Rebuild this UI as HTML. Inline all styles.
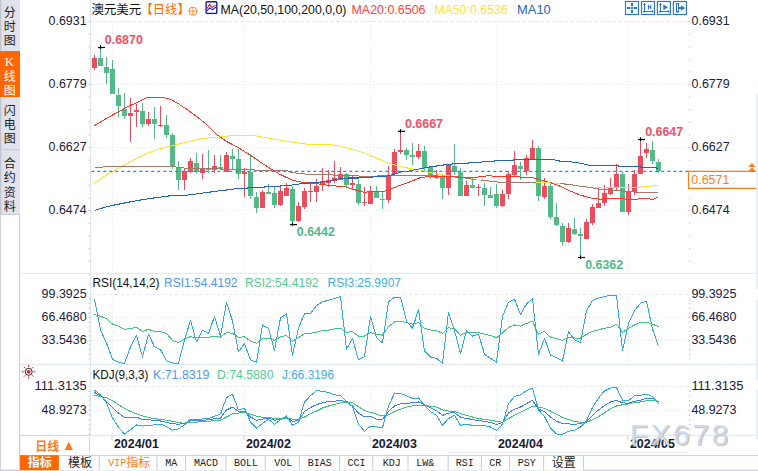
<!DOCTYPE html>
<html><head><meta charset="utf-8"><title>AUDUSD</title>
<style>html,body{margin:0;padding:0;background:#fff;}body{width:758px;height:471px;overflow:hidden;font-family:"Liberation Sans",sans-serif;}</style>
</head><body>
<svg width="758" height="471" viewBox="0 0 758 471" style="display:block" font-family="Liberation Sans, sans-serif">
<rect x="0" y="0" width="20" height="214" fill="#e1e3ec"/>
<rect x="0" y="0" width="1.3" height="214" fill="#c0c3ce"/>
<rect x="1.3" y="0" width="1" height="214" fill="#d8dae3"/>
<rect x="0" y="214" width="20" height="257" fill="#fff"/>
<rect x="0.4" y="214.5" width="19.2" height="257" fill="none" stroke="#c9ced8" stroke-width="1"/>
<rect x="2" y="149.2" width="18" height="1" fill="#c5c8d2"/>
<rect x="0" y="51" width="20" height="46" fill="#ff6600"/>
<text x="9.8" y="17.4" font-size="12" fill="#222" text-anchor="middle" style="font-family:'Liberation Sans','Noto Sans CJK SC',sans-serif">分</text>
<text x="9.8" y="31" font-size="12" fill="#222" text-anchor="middle" style="font-family:'Liberation Sans','Noto Sans CJK SC',sans-serif">时</text>
<text x="9.8" y="44.9" font-size="12" fill="#222" text-anchor="middle" style="font-family:'Liberation Sans','Noto Sans CJK SC',sans-serif">图</text>
<text x="9.8" y="80.9" font-size="12" fill="#fff" text-anchor="middle" style="font-family:'Liberation Sans','Noto Sans CJK SC',sans-serif">线</text>
<text x="9.8" y="95" font-size="12" fill="#fff" text-anchor="middle" style="font-family:'Liberation Sans','Noto Sans CJK SC',sans-serif">图</text>
<text x="9.4" y="66" font-size="13" fill="#fff" text-anchor="middle" font-weight="normal" style="font-family:'Liberation Serif',serif" >K</text>
<text x="9.8" y="114.9" font-size="12" fill="#222" text-anchor="middle" style="font-family:'Liberation Sans','Noto Sans CJK SC',sans-serif">闪</text>
<text x="9.8" y="128.7" font-size="12" fill="#222" text-anchor="middle" style="font-family:'Liberation Sans','Noto Sans CJK SC',sans-serif">电</text>
<text x="9.8" y="142.7" font-size="12" fill="#222" text-anchor="middle" style="font-family:'Liberation Sans','Noto Sans CJK SC',sans-serif">图</text>
<text x="9.8" y="167.5" font-size="12" fill="#222" text-anchor="middle" style="font-family:'Liberation Sans','Noto Sans CJK SC',sans-serif">合</text>
<text x="9.8" y="182" font-size="12" fill="#222" text-anchor="middle" style="font-family:'Liberation Sans','Noto Sans CJK SC',sans-serif">约</text>
<text x="9.8" y="196.5" font-size="12" fill="#222" text-anchor="middle" style="font-family:'Liberation Sans','Noto Sans CJK SC',sans-serif">资</text>
<text x="9.8" y="210.5" font-size="12" fill="#222" text-anchor="middle" style="font-family:'Liberation Sans','Noto Sans CJK SC',sans-serif">料</text>
<line x1="91" x2="689.5" y1="84.5" y2="84.5" stroke="#dfe6ee" stroke-width="1" stroke-dasharray="1,2"/>
<line x1="91" x2="689.5" y1="147.5" y2="147.5" stroke="#dfe6ee" stroke-width="1" stroke-dasharray="1,2"/>
<line x1="91" x2="689.5" y1="210.5" y2="210.5" stroke="#dfe6ee" stroke-width="1" stroke-dasharray="1,2"/>
<line x1="90.5" x2="689.5" y1="21.5" y2="21.5" stroke="#e1e9f0" stroke-width="1" stroke-dasharray="3.5,2.5"/>
<line x1="112.5" x2="112.5" y1="21" y2="272" stroke="#dfe6ee" stroke-width="1" stroke-dasharray="1,2"/>
<line x1="112.5" x2="112.5" y1="294" y2="364" stroke="#dfe6ee" stroke-width="1" stroke-dasharray="1,2"/>
<line x1="112.5" x2="112.5" y1="387" y2="435" stroke="#dfe6ee" stroke-width="1" stroke-dasharray="1,2"/>
<line x1="244.5" x2="244.5" y1="21" y2="272" stroke="#dfe6ee" stroke-width="1" stroke-dasharray="1,2"/>
<line x1="244.5" x2="244.5" y1="294" y2="364" stroke="#dfe6ee" stroke-width="1" stroke-dasharray="1,2"/>
<line x1="244.5" x2="244.5" y1="387" y2="435" stroke="#dfe6ee" stroke-width="1" stroke-dasharray="1,2"/>
<line x1="370.5" x2="370.5" y1="21" y2="272" stroke="#dfe6ee" stroke-width="1" stroke-dasharray="1,2"/>
<line x1="370.5" x2="370.5" y1="294" y2="364" stroke="#dfe6ee" stroke-width="1" stroke-dasharray="1,2"/>
<line x1="370.5" x2="370.5" y1="387" y2="435" stroke="#dfe6ee" stroke-width="1" stroke-dasharray="1,2"/>
<line x1="496.5" x2="496.5" y1="21" y2="272" stroke="#dfe6ee" stroke-width="1" stroke-dasharray="1,2"/>
<line x1="496.5" x2="496.5" y1="294" y2="364" stroke="#dfe6ee" stroke-width="1" stroke-dasharray="1,2"/>
<line x1="496.5" x2="496.5" y1="387" y2="435" stroke="#dfe6ee" stroke-width="1" stroke-dasharray="1,2"/>
<line x1="628.5" x2="628.5" y1="21" y2="272" stroke="#dfe6ee" stroke-width="1" stroke-dasharray="1,2"/>
<line x1="628.5" x2="628.5" y1="294" y2="364" stroke="#dfe6ee" stroke-width="1" stroke-dasharray="1,2"/>
<line x1="628.5" x2="628.5" y1="387" y2="435" stroke="#dfe6ee" stroke-width="1" stroke-dasharray="1,2"/>
<line x1="90.5" x2="90.5" y1="0" y2="435.5" stroke="#dde5ee" stroke-width="1.1"/>
<rect x="88.7" y="20.7" width="1.4" height="1.2" fill="#c2c9d6"/>
<rect x="88.7" y="33.32" width="1.4" height="1.2" fill="#c2c9d6"/>
<rect x="88.7" y="45.94" width="1.4" height="1.2" fill="#c2c9d6"/>
<rect x="88.7" y="58.559999999999995" width="1.4" height="1.2" fill="#c2c9d6"/>
<rect x="88.7" y="71.18" width="1.4" height="1.2" fill="#c2c9d6"/>
<rect x="88.7" y="83.8" width="1.4" height="1.2" fill="#c2c9d6"/>
<rect x="88.7" y="96.42" width="1.4" height="1.2" fill="#c2c9d6"/>
<rect x="88.7" y="109.03999999999999" width="1.4" height="1.2" fill="#c2c9d6"/>
<rect x="88.7" y="121.66" width="1.4" height="1.2" fill="#c2c9d6"/>
<rect x="88.7" y="134.28" width="1.4" height="1.2" fill="#c2c9d6"/>
<rect x="88.7" y="146.9" width="1.4" height="1.2" fill="#c2c9d6"/>
<rect x="88.7" y="159.52" width="1.4" height="1.2" fill="#c2c9d6"/>
<rect x="88.7" y="172.14000000000001" width="1.4" height="1.2" fill="#c2c9d6"/>
<rect x="88.7" y="184.76000000000002" width="1.4" height="1.2" fill="#c2c9d6"/>
<rect x="88.7" y="197.38" width="1.4" height="1.2" fill="#c2c9d6"/>
<rect x="88.7" y="210.0" width="1.4" height="1.2" fill="#c2c9d6"/>
<rect x="88.7" y="222.62" width="1.4" height="1.2" fill="#c2c9d6"/>
<rect x="88.7" y="235.24" width="1.4" height="1.2" fill="#c2c9d6"/>
<rect x="88.7" y="247.86" width="1.4" height="1.2" fill="#c2c9d6"/>
<rect x="88.7" y="260.47999999999996" width="1.4" height="1.2" fill="#c2c9d6"/>
<rect x="689.0" y="20.8" width="1.2" height="1.2" fill="#b9c0cc"/>
<rect x="689.0" y="33.42" width="1.2" height="1.2" fill="#b9c0cc"/>
<rect x="689.0" y="46.04" width="1.2" height="1.2" fill="#b9c0cc"/>
<rect x="689.0" y="58.66" width="1.2" height="1.2" fill="#b9c0cc"/>
<rect x="689.0" y="71.28" width="1.2" height="1.2" fill="#b9c0cc"/>
<rect x="689.0" y="83.89999999999999" width="1.2" height="1.2" fill="#b9c0cc"/>
<rect x="689.0" y="96.52" width="1.2" height="1.2" fill="#b9c0cc"/>
<rect x="689.0" y="109.13999999999999" width="1.2" height="1.2" fill="#b9c0cc"/>
<rect x="689.0" y="121.75999999999999" width="1.2" height="1.2" fill="#b9c0cc"/>
<rect x="689.0" y="134.38" width="1.2" height="1.2" fill="#b9c0cc"/>
<rect x="689.0" y="147.0" width="1.2" height="1.2" fill="#b9c0cc"/>
<rect x="689.0" y="159.62" width="1.2" height="1.2" fill="#b9c0cc"/>
<rect x="689.0" y="172.24" width="1.2" height="1.2" fill="#b9c0cc"/>
<rect x="689.0" y="184.86" width="1.2" height="1.2" fill="#b9c0cc"/>
<rect x="689.0" y="197.48" width="1.2" height="1.2" fill="#b9c0cc"/>
<rect x="689.0" y="210.1" width="1.2" height="1.2" fill="#b9c0cc"/>
<rect x="689.0" y="222.72" width="1.2" height="1.2" fill="#b9c0cc"/>
<rect x="689.0" y="235.34" width="1.2" height="1.2" fill="#b9c0cc"/>
<rect x="689.0" y="247.96" width="1.2" height="1.2" fill="#b9c0cc"/>
<rect x="689.0" y="260.58" width="1.2" height="1.2" fill="#b9c0cc"/>
<text x="86.6" y="24.7" font-size="12" fill="#20203a" text-anchor="end" font-weight="normal" style="font-family:'Liberation Sans',sans-serif" textLength="38" lengthAdjust="spacingAndGlyphs" >0.6931</text>
<text x="691.6" y="24.7" font-size="12" fill="#20203a" text-anchor="start" font-weight="normal" style="font-family:'Liberation Sans',sans-serif" textLength="38" lengthAdjust="spacingAndGlyphs" >0.6931</text>
<rect x="688.0" y="21.0" width="2" height="1" fill="#c9d0dc"/>
<text x="86.6" y="87.7" font-size="12" fill="#20203a" text-anchor="end" font-weight="normal" style="font-family:'Liberation Sans',sans-serif" textLength="38" lengthAdjust="spacingAndGlyphs" >0.6779</text>
<text x="691.6" y="87.7" font-size="12" fill="#20203a" text-anchor="start" font-weight="normal" style="font-family:'Liberation Sans',sans-serif" textLength="38" lengthAdjust="spacingAndGlyphs" >0.6779</text>
<rect x="688.0" y="84.0" width="2" height="1" fill="#c9d0dc"/>
<text x="86.6" y="150.7" font-size="12" fill="#20203a" text-anchor="end" font-weight="normal" style="font-family:'Liberation Sans',sans-serif" textLength="38" lengthAdjust="spacingAndGlyphs" >0.6627</text>
<text x="691.6" y="150.7" font-size="12" fill="#20203a" text-anchor="start" font-weight="normal" style="font-family:'Liberation Sans',sans-serif" textLength="38" lengthAdjust="spacingAndGlyphs" >0.6627</text>
<rect x="688.0" y="147.0" width="2" height="1" fill="#c9d0dc"/>
<text x="86.6" y="213.7" font-size="12" fill="#20203a" text-anchor="end" font-weight="normal" style="font-family:'Liberation Sans',sans-serif" textLength="38" lengthAdjust="spacingAndGlyphs" >0.6474</text>
<text x="691.6" y="213.7" font-size="12" fill="#20203a" text-anchor="start" font-weight="normal" style="font-family:'Liberation Sans',sans-serif" textLength="38" lengthAdjust="spacingAndGlyphs" >0.6474</text>
<rect x="688.0" y="210.0" width="2" height="1" fill="#c9d0dc"/>
<line x1="20" x2="758" y1="273.3" y2="273.3" stroke="#e4eaf2" stroke-width="1.3"/>
<line x1="20" x2="758" y1="364.5" y2="364.5" stroke="#e4eaf2" stroke-width="1.3"/>
<line x1="20" x2="758" y1="435.5" y2="435.5" stroke="#e4eaf2" stroke-width="1.3"/>
<rect x="94" y="55" width="1" height="15" fill="#eb4d5c"/>
<rect x="92" y="58" width="5" height="10" fill="#eb4d5c"/>
<rect x="100" y="48" width="1" height="18" fill="#53b987"/>
<rect x="98" y="58" width="5" height="8" fill="#53b987"/>
<rect x="106" y="57" width="1" height="27" fill="#53b987"/>
<rect x="104" y="67" width="5" height="6" fill="#53b987"/>
<rect x="112" y="60" width="1" height="34" fill="#53b987"/>
<rect x="110" y="69" width="5" height="25" fill="#53b987"/>
<rect x="118" y="88" width="1" height="29" fill="#53b987"/>
<rect x="116" y="95" width="5" height="11" fill="#53b987"/>
<rect x="124" y="93" width="1" height="26" fill="#53b987"/>
<rect x="122" y="109" width="5" height="7" fill="#53b987"/>
<rect x="130" y="98" width="1" height="44" fill="#eb4d5c"/>
<rect x="128" y="113" width="5" height="3" fill="#eb4d5c"/>
<rect x="136" y="104" width="1" height="23" fill="#eb4d5c"/>
<rect x="134" y="110" width="5" height="2" fill="#eb4d5c"/>
<rect x="142" y="103" width="1" height="24" fill="#53b987"/>
<rect x="140" y="111" width="5" height="13" fill="#53b987"/>
<rect x="148" y="112" width="1" height="14" fill="#eb4d5c"/>
<rect x="146" y="119" width="5" height="5" fill="#eb4d5c"/>
<rect x="154" y="107" width="1" height="32" fill="#53b987"/>
<rect x="152" y="119" width="5" height="5" fill="#53b987"/>
<rect x="160" y="106" width="1" height="21" fill="#eb4d5c"/>
<rect x="158" y="125" width="5" height="1" fill="#eb4d5c"/>
<rect x="166" y="115" width="1" height="23" fill="#53b987"/>
<rect x="164" y="125" width="5" height="10" fill="#53b987"/>
<rect x="172" y="133" width="1" height="36" fill="#53b987"/>
<rect x="170" y="135" width="5" height="31" fill="#53b987"/>
<rect x="178" y="161" width="1" height="29" fill="#53b987"/>
<rect x="176" y="168" width="5" height="12" fill="#53b987"/>
<rect x="184" y="169" width="1" height="21" fill="#eb4d5c"/>
<rect x="182" y="171" width="5" height="9" fill="#eb4d5c"/>
<rect x="190" y="158" width="1" height="15" fill="#eb4d5c"/>
<rect x="188" y="161" width="5" height="11" fill="#eb4d5c"/>
<rect x="196" y="153" width="1" height="20" fill="#53b987"/>
<rect x="194" y="163" width="5" height="9" fill="#53b987"/>
<rect x="202" y="154" width="1" height="25" fill="#eb4d5c"/>
<rect x="200" y="169" width="5" height="4" fill="#eb4d5c"/>
<rect x="208" y="150" width="1" height="23" fill="#53b987"/>
<rect x="206" y="169" width="5" height="1" fill="#53b987"/>
<rect x="214" y="155" width="1" height="18" fill="#eb4d5c"/>
<rect x="212" y="166" width="5" height="4" fill="#eb4d5c"/>
<rect x="220" y="155" width="1" height="15" fill="#53b987"/>
<rect x="218" y="167" width="5" height="2" fill="#53b987"/>
<rect x="226" y="152" width="1" height="20" fill="#eb4d5c"/>
<rect x="224" y="155" width="5" height="17" fill="#eb4d5c"/>
<rect x="232" y="149" width="1" height="20" fill="#53b987"/>
<rect x="230" y="156" width="5" height="3" fill="#53b987"/>
<rect x="238" y="149" width="1" height="30" fill="#53b987"/>
<rect x="236" y="159" width="5" height="15" fill="#53b987"/>
<rect x="244" y="168" width="1" height="29" fill="#eb4d5c"/>
<rect x="242" y="172" width="5" height="2" fill="#eb4d5c"/>
<rect x="250" y="154" width="1" height="45" fill="#53b987"/>
<rect x="248" y="172" width="5" height="24" fill="#53b987"/>
<rect x="256" y="192" width="1" height="21" fill="#53b987"/>
<rect x="254" y="197" width="5" height="11" fill="#53b987"/>
<rect x="262" y="190" width="1" height="18" fill="#eb4d5c"/>
<rect x="260" y="192" width="5" height="16" fill="#eb4d5c"/>
<rect x="268" y="184" width="1" height="10" fill="#53b987"/>
<rect x="266" y="192" width="5" height="2" fill="#53b987"/>
<rect x="274" y="187" width="1" height="21" fill="#53b987"/>
<rect x="272" y="193" width="5" height="12" fill="#53b987"/>
<rect x="280" y="187" width="1" height="19" fill="#eb4d5c"/>
<rect x="278" y="191" width="5" height="14" fill="#eb4d5c"/>
<rect x="286" y="183" width="1" height="13" fill="#eb4d5c"/>
<rect x="284" y="188" width="5" height="8" fill="#eb4d5c"/>
<rect x="292" y="186" width="1" height="38" fill="#53b987"/>
<rect x="290" y="189" width="5" height="32" fill="#53b987"/>
<rect x="298" y="202" width="1" height="20" fill="#eb4d5c"/>
<rect x="296" y="206" width="5" height="15" fill="#eb4d5c"/>
<rect x="304" y="188" width="1" height="21" fill="#eb4d5c"/>
<rect x="302" y="191" width="5" height="16" fill="#eb4d5c"/>
<rect x="310" y="182" width="1" height="20" fill="#eb4d5c"/>
<rect x="308" y="191" width="5" height="1" fill="#eb4d5c"/>
<rect x="316" y="179" width="1" height="23" fill="#eb4d5c"/>
<rect x="314" y="186" width="5" height="6" fill="#eb4d5c"/>
<rect x="322" y="168" width="1" height="23" fill="#eb4d5c"/>
<rect x="320" y="181" width="5" height="3" fill="#eb4d5c"/>
<rect x="328" y="170" width="1" height="17" fill="#eb4d5c"/>
<rect x="326" y="180" width="5" height="3" fill="#eb4d5c"/>
<rect x="334" y="161" width="1" height="22" fill="#eb4d5c"/>
<rect x="332" y="178" width="5" height="3" fill="#eb4d5c"/>
<rect x="340" y="167" width="1" height="13" fill="#eb4d5c"/>
<rect x="338" y="174" width="5" height="6" fill="#eb4d5c"/>
<rect x="346" y="173" width="1" height="14" fill="#53b987"/>
<rect x="344" y="174" width="5" height="11" fill="#53b987"/>
<rect x="352" y="176" width="1" height="13" fill="#eb4d5c"/>
<rect x="350" y="183" width="5" height="2" fill="#eb4d5c"/>
<rect x="358" y="180" width="1" height="25" fill="#53b987"/>
<rect x="356" y="184" width="5" height="19" fill="#53b987"/>
<rect x="364" y="187" width="1" height="19" fill="#eb4d5c"/>
<rect x="362" y="202" width="5" height="1" fill="#eb4d5c"/>
<rect x="370" y="186" width="1" height="18" fill="#eb4d5c"/>
<rect x="368" y="192" width="5" height="12" fill="#eb4d5c"/>
<rect x="376" y="186" width="1" height="12" fill="#53b987"/>
<rect x="374" y="192" width="5" height="6" fill="#53b987"/>
<rect x="382" y="192" width="1" height="17" fill="#53b987"/>
<rect x="380" y="199" width="5" height="1" fill="#53b987"/>
<rect x="388" y="166" width="1" height="37" fill="#eb4d5c"/>
<rect x="386" y="176" width="5" height="24" fill="#eb4d5c"/>
<rect x="394" y="149" width="1" height="25" fill="#eb4d5c"/>
<rect x="392" y="152" width="5" height="22" fill="#eb4d5c"/>
<rect x="400" y="131" width="1" height="23" fill="#eb4d5c"/>
<rect x="398" y="150" width="5" height="2" fill="#eb4d5c"/>
<rect x="406" y="148" width="1" height="12" fill="#53b987"/>
<rect x="404" y="150" width="5" height="5" fill="#53b987"/>
<rect x="412" y="143" width="1" height="22" fill="#53b987"/>
<rect x="410" y="155" width="5" height="2" fill="#53b987"/>
<rect x="418" y="144" width="1" height="15" fill="#eb4d5c"/>
<rect x="416" y="151" width="5" height="6" fill="#eb4d5c"/>
<rect x="424" y="146" width="1" height="25" fill="#53b987"/>
<rect x="422" y="151" width="5" height="17" fill="#53b987"/>
<rect x="430" y="166" width="1" height="13" fill="#53b987"/>
<rect x="428" y="167" width="5" height="9" fill="#53b987"/>
<rect x="436" y="170" width="1" height="9" fill="#eb4d5c"/>
<rect x="434" y="177" width="5" height="1" fill="#eb4d5c"/>
<rect x="442" y="175" width="1" height="24" fill="#53b987"/>
<rect x="440" y="176" width="5" height="12" fill="#53b987"/>
<rect x="448" y="164" width="1" height="31" fill="#eb4d5c"/>
<rect x="446" y="165" width="5" height="23" fill="#eb4d5c"/>
<rect x="454" y="144" width="1" height="31" fill="#53b987"/>
<rect x="452" y="166" width="5" height="6" fill="#53b987"/>
<rect x="460" y="168" width="1" height="28" fill="#53b987"/>
<rect x="458" y="172" width="5" height="24" fill="#53b987"/>
<rect x="466" y="181" width="1" height="15" fill="#eb4d5c"/>
<rect x="464" y="185" width="5" height="11" fill="#eb4d5c"/>
<rect x="472" y="177" width="1" height="11" fill="#53b987"/>
<rect x="470" y="185" width="5" height="3" fill="#53b987"/>
<rect x="478" y="184" width="1" height="12" fill="#eb4d5c"/>
<rect x="476" y="187" width="5" height="1" fill="#eb4d5c"/>
<rect x="484" y="183" width="1" height="23" fill="#53b987"/>
<rect x="482" y="188" width="5" height="7" fill="#53b987"/>
<rect x="490" y="187" width="1" height="11" fill="#53b987"/>
<rect x="488" y="195" width="5" height="3" fill="#53b987"/>
<rect x="496" y="184" width="1" height="24" fill="#53b987"/>
<rect x="494" y="194" width="5" height="12" fill="#53b987"/>
<rect x="502" y="190" width="1" height="17" fill="#eb4d5c"/>
<rect x="500" y="194" width="5" height="12" fill="#eb4d5c"/>
<rect x="508" y="171" width="1" height="28" fill="#eb4d5c"/>
<rect x="506" y="174" width="5" height="20" fill="#eb4d5c"/>
<rect x="514" y="151" width="1" height="25" fill="#eb4d5c"/>
<rect x="512" y="165" width="5" height="10" fill="#eb4d5c"/>
<rect x="520" y="162" width="1" height="18" fill="#53b987"/>
<rect x="518" y="166" width="5" height="3" fill="#53b987"/>
<rect x="526" y="155" width="1" height="20" fill="#eb4d5c"/>
<rect x="524" y="158" width="5" height="13" fill="#eb4d5c"/>
<rect x="532" y="140" width="1" height="19" fill="#eb4d5c"/>
<rect x="530" y="148" width="5" height="11" fill="#eb4d5c"/>
<rect x="538" y="146" width="1" height="55" fill="#53b987"/>
<rect x="536" y="148" width="5" height="48" fill="#53b987"/>
<rect x="544" y="178" width="1" height="21" fill="#eb4d5c"/>
<rect x="542" y="186" width="5" height="11" fill="#eb4d5c"/>
<rect x="550" y="184" width="1" height="35" fill="#53b987"/>
<rect x="548" y="186" width="5" height="31" fill="#53b987"/>
<rect x="556" y="203" width="1" height="23" fill="#53b987"/>
<rect x="554" y="217" width="5" height="8" fill="#53b987"/>
<rect x="562" y="223" width="1" height="23" fill="#53b987"/>
<rect x="560" y="226" width="5" height="16" fill="#53b987"/>
<rect x="568" y="223" width="1" height="20" fill="#eb4d5c"/>
<rect x="566" y="228" width="5" height="14" fill="#eb4d5c"/>
<rect x="574" y="218" width="1" height="17" fill="#53b987"/>
<rect x="572" y="229" width="5" height="5" fill="#53b987"/>
<rect x="580" y="228" width="1" height="29" fill="#53b987"/>
<rect x="578" y="234" width="5" height="2" fill="#53b987"/>
<rect x="586" y="219" width="1" height="20" fill="#eb4d5c"/>
<rect x="584" y="222" width="5" height="17" fill="#eb4d5c"/>
<rect x="592" y="204" width="1" height="21" fill="#eb4d5c"/>
<rect x="590" y="207" width="5" height="16" fill="#eb4d5c"/>
<rect x="598" y="188" width="1" height="20" fill="#eb4d5c"/>
<rect x="596" y="203" width="5" height="5" fill="#eb4d5c"/>
<rect x="604" y="185" width="1" height="21" fill="#eb4d5c"/>
<rect x="602" y="193" width="5" height="10" fill="#eb4d5c"/>
<rect x="610" y="178" width="1" height="17" fill="#eb4d5c"/>
<rect x="608" y="188" width="5" height="6" fill="#eb4d5c"/>
<rect x="616" y="164" width="1" height="26" fill="#eb4d5c"/>
<rect x="614" y="174" width="5" height="14" fill="#eb4d5c"/>
<rect x="622" y="172" width="1" height="40" fill="#53b987"/>
<rect x="620" y="174" width="5" height="38" fill="#53b987"/>
<rect x="628" y="184" width="1" height="31" fill="#eb4d5c"/>
<rect x="626" y="191" width="5" height="21" fill="#eb4d5c"/>
<rect x="634" y="170" width="1" height="25" fill="#eb4d5c"/>
<rect x="632" y="174" width="5" height="18" fill="#eb4d5c"/>
<rect x="640" y="139" width="1" height="35" fill="#eb4d5c"/>
<rect x="638" y="156" width="5" height="18" fill="#eb4d5c"/>
<rect x="646" y="143" width="1" height="15" fill="#eb4d5c"/>
<rect x="644" y="149" width="5" height="4" fill="#eb4d5c"/>
<rect x="652" y="141" width="1" height="23" fill="#53b987"/>
<rect x="650" y="150" width="5" height="11" fill="#53b987"/>
<rect x="658" y="159" width="1" height="14" fill="#53b987"/>
<rect x="656" y="162" width="5" height="9" fill="#53b987"/>
<polyline points="94.5,183.0 107.8,174.1 117.7,168.8 127.6,163.2 137.5,157.9 147.4,153.3 157.3,149.4 167.2,147.0 177.1,144.4 187.0,141.9 196.8,139.5 206.7,138.1 216.6,137.5 226.5,136.1 238.0,135.3 253.7,135.3 269.6,138.5 289.4,141.8 309.2,144.4 329.0,144.4 338.8,145.8 348.7,148.4 358.6,151.1 368.5,154.7 379.9,159.6 389.8,163.6 399.7,166.2 409.6,168.5 419.5,170.1 429.4,172.5 439.3,174.5 449.2,175.9 457.0,176.9 469.0,178.6 481.0,179.6 489.0,181.0 500.0,182.3 520.0,182.8 535.0,183.0 560.0,183.0 569.4,184.4 579.0,186.0 591.0,187.9 638.6,187.3 648.5,186.3 658.0,185.0" fill="none" stroke="#ffe12e" stroke-width="1" stroke-linejoin="round" shape-rendering="crispEdges" />
<polyline points="94.5,167.2 102.8,167.2 103.8,166.2 175.0,166.2 176.5,167.8 238.0,169.5 253.7,169.5 255.7,170.5 287.4,170.9 291.3,172.5 309.2,174.5 325.0,174.5 340.8,175.5 370.0,176.3 389.8,175.5 429.4,175.5 439.3,176.1 459.0,176.9 469.0,178.8 480.8,180.0 488.7,181.0 500.6,182.4 535.7,182.4 549.6,182.8 569.4,184.4 579.3,186.0 589.2,187.3 599.0,189.3 618.8,190.7 638.6,192.3 658.0,192.7" fill="none" stroke="#a9776a" stroke-width="1" stroke-linejoin="round" shape-rendering="crispEdges" />
<polyline points="94.5,210.4 107.8,206.4 117.7,204.4 127.6,202.4 137.5,200.5 147.4,198.9 157.3,197.5 167.2,196.1 177.1,195.5 187.0,195.1 196.8,193.9 206.7,192.5 216.6,191.2 226.5,190.0 238.0,188.5 249.8,187.9 269.6,186.7 289.4,185.4 299.3,184.0 309.2,183.0 319.0,182.4 329.0,181.0 338.8,178.8 348.7,178.0 358.6,178.0 368.5,177.2 385.8,176.3 395.7,173.9 399.7,172.1 409.6,170.9 419.5,168.9 429.4,167.0 439.3,165.6 449.2,164.2 459.0,163.6 469.0,163.0 478.8,162.2 488.7,161.6 498.6,160.6 510.0,160.6 517.9,159.2 553.5,159.6 559.5,161.0 569.4,161.6 579.3,163.0 589.2,165.2 599.0,165.2 616.9,165.6 620.8,166.6 640.6,167.0 646.6,167.5 658.0,168.1" fill="none" stroke="#2166b4" stroke-width="1.05" stroke-linejoin="round" shape-rendering="crispEdges" />
<polyline points="94.5,125.6 107.8,117.7 117.7,112.2 127.6,106.8 137.5,102.3 147.4,97.5 163.2,97.5 171.1,99.5 179.0,104.2 187.0,109.4 196.8,116.7 206.7,124.6 216.6,134.5 226.5,141.5 230.0,143.2 239.9,148.7 249.8,154.7 259.7,161.6 269.6,168.1 279.5,174.1 289.4,178.8 293.3,180.4 301.2,182.0 309.2,183.0 319.0,184.0 329.0,185.4 338.8,186.3 344.8,186.7 352.7,189.3 364.6,192.3 368.5,191.9 383.9,191.3 389.8,189.3 399.7,185.4 409.6,182.0 419.5,178.0 425.4,176.9 435.3,176.9 449.2,176.5 459.0,177.4 469.0,177.4 480.8,176.9 488.7,175.5 498.6,176.9 510.0,176.6 519.9,177.0 531.8,177.5 535.7,178.4 549.6,182.4 559.5,186.0 569.4,190.7 579.3,194.7 589.2,197.8 599.0,199.2 609.0,198.6 620.8,198.6 632.7,199.8 640.6,198.6 648.5,198.6 652.5,199.8 658.0,197.2" fill="none" stroke="#ff3526" stroke-width="1" stroke-linejoin="round" shape-rendering="crispEdges" />
<polyline points="476.0,179.5 482.5,179.5" fill="none" stroke="#ffe12e" stroke-width="1" stroke-linejoin="round" shape-rendering="crispEdges" />
<polyline points="535.7,182.5 550.0,182.5" fill="none" stroke="#ffe12e" stroke-width="1" stroke-linejoin="round" shape-rendering="crispEdges" />
<polyline points="554.0,183.2 560.0,183.2" fill="none" stroke="#ffe12e" stroke-width="1" stroke-linejoin="round" shape-rendering="crispEdges" />
<line x1="91.3" x2="688" y1="171.45" y2="171.45" stroke="#1a8cff" stroke-width="1.3" stroke-dasharray="3,3"/>
<rect x="98.0" y="46.9" width="7" height="1.2" fill="#000"/>
<rect x="99.95" y="45.3" width="1.1" height="3.8" fill="#000"/>
<rect x="290.0" y="224.0" width="7" height="1.2" fill="#000"/>
<rect x="291.95" y="222.4" width="1.1" height="3.8" fill="#000"/>
<rect x="398.0" y="130.70000000000002" width="7" height="1.2" fill="#000"/>
<rect x="399.95" y="129.10000000000002" width="1.1" height="3.8" fill="#000"/>
<rect x="578.0" y="256.9" width="7" height="1.2" fill="#000"/>
<rect x="579.95" y="255.3" width="1.1" height="3.8" fill="#000"/>
<rect x="638.0" y="138.9" width="7" height="1.2" fill="#000"/>
<rect x="639.95" y="137.3" width="1.1" height="3.8" fill="#000"/>
<text x="104.8" y="43.9" font-size="12" fill="#f0506a" text-anchor="start" font-weight="bold" style="font-family:'Liberation Sans',sans-serif" textLength="38" lengthAdjust="spacingAndGlyphs" >0.6870</text>
<text x="296.8" y="235.9" font-size="12" fill="#53b987" text-anchor="start" font-weight="bold" style="font-family:'Liberation Sans',sans-serif" textLength="38" lengthAdjust="spacingAndGlyphs" >0.6442</text>
<text x="405" y="128" font-size="12" fill="#f0506a" text-anchor="start" font-weight="bold" style="font-family:'Liberation Sans',sans-serif" textLength="38" lengthAdjust="spacingAndGlyphs" >0.6667</text>
<text x="585.2" y="268.9" font-size="12" fill="#53b987" text-anchor="start" font-weight="bold" style="font-family:'Liberation Sans',sans-serif" textLength="38" lengthAdjust="spacingAndGlyphs" >0.6362</text>
<text x="645.2" y="135.6" font-size="12" fill="#f0506a" text-anchor="start" font-weight="bold" style="font-family:'Liberation Sans',sans-serif" textLength="38" lengthAdjust="spacingAndGlyphs" >0.6647</text>
<path d="M756 171.4H688.5V188.4H756" fill="#fff" stroke="#ff7a1a" stroke-width="1.25"/>
<text x="691.3" y="184.3" font-size="12" fill="#ff7a1a" text-anchor="start" font-weight="normal" style="font-family:'Liberation Sans',sans-serif" textLength="38" lengthAdjust="spacingAndGlyphs" >0.6571</text>
<path d="M748.2 166.9 L752 163 L755.7 166.9 Z M747.8 171.6 L752 167.5 L756 171.6 Z" fill="#ff7a1a"/>
<text x="91.6" y="14" font-size="12.4" fill="#111" text-anchor="start" style="font-family:'Liberation Sans','Noto Sans CJK SC',sans-serif">澳元美元</text>
<text x="140.5" y="14" font-size="12.3" fill="#ff6a00" text-anchor="start" style="font-family:'Liberation Sans','Noto Sans CJK SC',sans-serif">【日线】</text>
<circle cx="192.9" cy="11.1" r="4.0" fill="none" stroke="#ff7a1a" stroke-width="0.9"/>
<path d="M188.9 11.1H196.9M192.9 7.1V15.1" stroke="#ff7a1a" stroke-width="0.8" fill="none"/>
<rect x="206.1" y="1.8" width="10.7" height="11.6" rx="1" fill="#fff" stroke="#1c1c8c" stroke-width="1.4"/>
<rect x="206" y="13.2" width="11.2" height="1" fill="#1c1c8c" fill-opacity="0.55"/>
<polyline points="206.8,8.8 209.6,4.3 211.9,7.4 215.6,5.1" fill="none" stroke="#f02020" stroke-width="1.1"/>
<polyline points="206.8,11.2 209.6,7.9 212.3,9.8 216,7" fill="none" stroke="#2020e0" stroke-width="1.1"/>
<text x="220.6" y="13.9" font-size="12.6" fill="#111" text-anchor="start" font-weight="normal" style="font-family:'Liberation Sans',sans-serif" textLength="125.8" lengthAdjust="spacingAndGlyphs" >MA(20,50,100,200,0,0)</text>
<text x="351.5" y="13.9" font-size="12.6" fill="#ff4040" text-anchor="start" font-weight="normal" style="font-family:'Liberation Sans',sans-serif" textLength="74" lengthAdjust="spacingAndGlyphs" >MA20:0.6506</text>
<text x="434.2" y="13.9" font-size="12.6" fill="#ffdf40" text-anchor="start" font-weight="normal" style="font-family:'Liberation Sans',sans-serif" textLength="73.5" lengthAdjust="spacingAndGlyphs" >MA50:0.6536</text>
<text x="517" y="13.9" font-size="12.6" fill="#2a66b8" text-anchor="start" font-weight="normal" style="font-family:'Liberation Sans',sans-serif" textLength="33.8" lengthAdjust="spacingAndGlyphs" >MA10</text>
<rect x="625.5" y="1.5" width="13" height="13" fill="#fff" stroke="#2478d2" stroke-width="1.15"/>
<rect x="641.5" y="1.5" width="13" height="13" fill="#fff" stroke="#2478d2" stroke-width="1.15"/>
<rect x="657.4" y="1.5" width="13" height="13" fill="#fff" stroke="#2478d2" stroke-width="1.15"/>
<rect x="673.4" y="1.5" width="13" height="13" fill="#fff" stroke="#2478d2" stroke-width="1.15"/>
<path d="M627 8H630.2M633.9 8H637.1M632 3V6M632 10V13" stroke="#2478d2" stroke-width="2" fill="none"/>
<rect x="631" y="7" width="2" height="2" fill="#2478d2"/>
<path d="M644.5 3.4V11.5M643.2 11.5H653.1" stroke="#2478d2" stroke-width="1" fill="none"/>
<path d="M643.0 5L644.5 2.7L646.0 5Z M651.9 10L653.8 11.5L651.9 13Z M644.7 10L642.8 11.5L644.7 13Z" fill="#2478d2"/>
<path d="M648.5 4.8V9.4" stroke="#2478d2" stroke-width="1.1" fill="none"/>
<path d="M651.3 4.6V9.6L649 7.1Z" fill="#2478d2"/>
<path d="M660.5 3.4V11.5M659.2 11.5H669.1" stroke="#2478d2" stroke-width="1" fill="none"/>
<path d="M659.0 5L660.5 2.7L662.0 5Z M667.9 10L669.8 11.5L667.9 13Z M660.7 10L658.8 11.5L660.7 13Z" fill="#2478d2"/>
<path d="M663.3 4.4V10.2L667.9 7.3Z" fill="#2478d2"/>
<rect x="676.5" y="3.5" width="2" height="8.5" fill="none" stroke="#2478d2" stroke-width="1"/>
<path d="M678.5 8H682" stroke="#2478d2" stroke-width="2"/>
<path d="M681.2 5.3V10.7L685 8Z" fill="#2478d2"/>
<line x1="91" x2="689.5" y1="294.5" y2="294.5" stroke="#e4ebf2" stroke-width="1" stroke-dasharray="3.5,2.5"/>
<line x1="91" x2="689.5" y1="317.5" y2="317.5" stroke="#dfe6ee" stroke-width="1" stroke-dasharray="1,2"/>
<line x1="91" x2="689.5" y1="340.5" y2="340.5" stroke="#dfe6ee" stroke-width="1" stroke-dasharray="1,2"/>
<text x="86.6" y="297.59999999999997" font-size="12" fill="#20203a" text-anchor="end" font-weight="normal" style="font-family:'Liberation Sans',sans-serif" textLength="45" lengthAdjust="spacingAndGlyphs" >99.3925</text>
<text x="691.4" y="297.59999999999997" font-size="12" fill="#20203a" text-anchor="start" font-weight="normal" style="font-family:'Liberation Sans',sans-serif" textLength="45" lengthAdjust="spacingAndGlyphs" >99.3925</text>
<text x="86.6" y="320.79999999999995" font-size="12" fill="#20203a" text-anchor="end" font-weight="normal" style="font-family:'Liberation Sans',sans-serif" textLength="45" lengthAdjust="spacingAndGlyphs" >66.4680</text>
<text x="691.4" y="320.79999999999995" font-size="12" fill="#20203a" text-anchor="start" font-weight="normal" style="font-family:'Liberation Sans',sans-serif" textLength="45" lengthAdjust="spacingAndGlyphs" >66.4680</text>
<text x="86.6" y="343.5" font-size="12" fill="#20203a" text-anchor="end" font-weight="normal" style="font-family:'Liberation Sans',sans-serif" textLength="45" lengthAdjust="spacingAndGlyphs" >33.5436</text>
<text x="691.4" y="343.5" font-size="12" fill="#20203a" text-anchor="start" font-weight="normal" style="font-family:'Liberation Sans',sans-serif" textLength="45" lengthAdjust="spacingAndGlyphs" >33.5436</text>
<rect x="88.7" y="298.5" width="1.4" height="1.2" fill="#c2c9d6"/>
<rect x="88.7" y="303.1" width="1.4" height="1.2" fill="#c2c9d6"/>
<rect x="88.7" y="307.7" width="1.4" height="1.2" fill="#c2c9d6"/>
<rect x="88.7" y="312.3" width="1.4" height="1.2" fill="#c2c9d6"/>
<rect x="88.7" y="316.9" width="1.4" height="1.2" fill="#c2c9d6"/>
<rect x="88.7" y="321.5" width="1.4" height="1.2" fill="#c2c9d6"/>
<rect x="88.7" y="326.1" width="1.4" height="1.2" fill="#c2c9d6"/>
<rect x="88.7" y="330.7" width="1.4" height="1.2" fill="#c2c9d6"/>
<rect x="88.7" y="335.3" width="1.4" height="1.2" fill="#c2c9d6"/>
<rect x="88.7" y="339.9" width="1.4" height="1.2" fill="#c2c9d6"/>
<rect x="88.7" y="344.5" width="1.4" height="1.2" fill="#c2c9d6"/>
<rect x="88.7" y="349.1" width="1.4" height="1.2" fill="#c2c9d6"/>
<rect x="88.7" y="353.7" width="1.4" height="1.2" fill="#c2c9d6"/>
<rect x="88.7" y="358.3" width="1.4" height="1.2" fill="#c2c9d6"/>
<rect x="689.0" y="298.6" width="1.2" height="1.2" fill="#b9c0cc"/>
<rect x="689.0" y="303.20000000000005" width="1.2" height="1.2" fill="#b9c0cc"/>
<rect x="689.0" y="307.8" width="1.2" height="1.2" fill="#b9c0cc"/>
<rect x="689.0" y="312.40000000000003" width="1.2" height="1.2" fill="#b9c0cc"/>
<rect x="689.0" y="317.0" width="1.2" height="1.2" fill="#b9c0cc"/>
<rect x="689.0" y="321.6" width="1.2" height="1.2" fill="#b9c0cc"/>
<rect x="689.0" y="326.20000000000005" width="1.2" height="1.2" fill="#b9c0cc"/>
<rect x="689.0" y="330.8" width="1.2" height="1.2" fill="#b9c0cc"/>
<rect x="689.0" y="335.40000000000003" width="1.2" height="1.2" fill="#b9c0cc"/>
<rect x="689.0" y="340.0" width="1.2" height="1.2" fill="#b9c0cc"/>
<rect x="689.0" y="344.6" width="1.2" height="1.2" fill="#b9c0cc"/>
<rect x="689.0" y="349.20000000000005" width="1.2" height="1.2" fill="#b9c0cc"/>
<rect x="689.0" y="353.8" width="1.2" height="1.2" fill="#b9c0cc"/>
<rect x="689.0" y="358.40000000000003" width="1.2" height="1.2" fill="#b9c0cc"/>
<polyline points="94.5,314.4 100.5,316.3 106.5,318.4 112.5,324.2 118.5,326.1 124.5,329.3 130.5,328.5 136.5,327.4 142.5,331.4 148.5,329.3 154.5,331.4 160.5,331.4 166.5,333.4 172.5,340.4 178.5,342.4 184.5,339.3 190.5,336.6 196.5,338.0 202.5,337.2 208.5,337.2 214.5,336.4 220.5,337.2 226.5,332.5 232.5,333.4 238.5,337.2 244.5,336.9 250.5,341.3 256.5,343.2 262.5,338.5 268.5,338.2 274.5,340.4 280.5,336.9 286.5,335.3 292.5,341.3 298.5,337.7 304.5,333.7 310.5,333.4 316.5,332.2 322.5,330.6 328.5,330.1 334.5,329.0 340.5,328.2 346.5,332.2 352.5,331.7 358.5,336.1 364.5,336.1 370.5,332.5 376.5,334.1 382.5,335.3 388.5,326.6 394.5,321.9 400.5,321.1 406.5,322.7 412.5,324.2 418.5,322.7 424.5,328.2 430.5,330.0 436.5,330.6 442.5,333.4 448.5,327.7 454.5,329.0 460.5,335.3 466.5,332.2 472.5,332.5 478.5,332.5 484.5,334.1 490.5,335.6 496.5,337.7 502.5,333.0 508.5,327.4 514.5,325.0 520.5,326.1 526.5,323.5 532.5,321.1 538.5,334.1 544.5,331.4 550.5,337.2 556.5,338.5 562.5,340.4 568.5,337.2 574.5,338.0 580.5,338.0 586.5,334.5 592.5,331.4 598.5,329.8 604.5,328.2 610.5,327.1 616.5,324.2 622.5,332.5 628.5,328.2 634.5,325.0 640.5,322.3 646.5,322.3 652.5,324.2 658.5,326.6" fill="none" stroke="#3fc380" stroke-width="1.0" stroke-linejoin="round" shape-rendering="crispEdges" />
<polyline points="94.5,299.2 100.5,329.8 106.5,343.2 112.5,359.1 118.5,362.2 124.5,363.5 130.5,347.2 136.5,335.3 142.5,357.2 148.5,334.1 154.5,346.7 160.5,349.6 166.5,360.7 172.5,363.0 178.5,363.0 184.5,340.1 190.5,320.3 196.5,342.0 202.5,330.1 208.5,333.7 214.5,316.3 220.5,336.1 226.5,302.4 232.5,321.1 238.5,352.0 244.5,343.6 250.5,359.9 256.5,362.2 262.5,325.0 268.5,328.5 274.5,350.4 280.5,317.9 286.5,314.0 292.5,355.1 298.5,328.2 304.5,313.5 310.5,313.5 316.5,305.6 322.5,301.8 328.5,300.2 334.5,298.6 340.5,296.5 346.5,349.3 352.5,338.5 358.5,359.9 364.5,356.7 370.5,316.3 376.5,337.7 382.5,342.9 388.5,301.8 394.5,297.3 400.5,297.3 406.5,321.1 412.5,328.2 418.5,309.7 424.5,351.2 430.5,357.1 436.5,358.3 442.5,363.0 448.5,312.4 454.5,330.6 460.5,353.5 466.5,330.6 472.5,336.1 478.5,334.1 484.5,354.3 490.5,358.3 496.5,362.2 502.5,316.3 508.5,302.1 514.5,299.2 520.5,314.4 526.5,304.0 532.5,298.6 538.5,354.3 544.5,338.3 550.5,355.1 556.5,357.5 562.5,361.0 568.5,331.8 574.5,339.8 580.5,342.9 586.5,310.8 592.5,300.5 598.5,298.1 604.5,296.5 610.5,295.4 616.5,295.4 622.5,350.4 628.5,323.5 634.5,310.8 640.5,303.3 646.5,301.3 652.5,329.0 658.5,346.4" fill="none" stroke="#2fa8e0" stroke-width="1.0" stroke-linejoin="round" shape-rendering="crispEdges" />
<text x="92.5" y="286.6" font-size="12" fill="#111" text-anchor="start" font-weight="normal" style="font-family:'Liberation Sans',sans-serif" textLength="67" lengthAdjust="spacingAndGlyphs" >RSI(14,14,2)</text>
<text x="164" y="286.6" font-size="12" fill="#4d97f5" text-anchor="start" font-weight="normal" style="font-family:'Liberation Sans',sans-serif" textLength="73.5" lengthAdjust="spacingAndGlyphs" >RSI1:54.4192</text>
<text x="245" y="286.6" font-size="12" fill="#52cc8c" text-anchor="start" font-weight="normal" style="font-family:'Liberation Sans',sans-serif" textLength="73.5" lengthAdjust="spacingAndGlyphs" >RSI2:54.4192</text>
<text x="327.5" y="286.6" font-size="12" fill="#38b0ea" text-anchor="start" font-weight="normal" style="font-family:'Liberation Sans',sans-serif" textLength="73.5" lengthAdjust="spacingAndGlyphs" >RSI3:25.9907</text>
<line x1="91" x2="689.5" y1="386.5" y2="386.5" stroke="#e4ebf2" stroke-width="1" stroke-dasharray="3.5,2.5"/>
<line x1="91" x2="689.5" y1="410.5" y2="410.5" stroke="#dfe6ee" stroke-width="1" stroke-dasharray="1,2"/>
<text x="86.6" y="389.9" font-size="12" fill="#20203a" text-anchor="end" font-weight="normal" style="font-family:'Liberation Sans',sans-serif" textLength="52" lengthAdjust="spacingAndGlyphs" >111.3135</text>
<text x="691.4" y="389.9" font-size="12" fill="#20203a" text-anchor="start" font-weight="normal" style="font-family:'Liberation Sans',sans-serif" textLength="52" lengthAdjust="spacingAndGlyphs" >111.3135</text>
<text x="86.6" y="413.59999999999997" font-size="12" fill="#20203a" text-anchor="end" font-weight="normal" style="font-family:'Liberation Sans',sans-serif" textLength="45" lengthAdjust="spacingAndGlyphs" >48.9273</text>
<text x="691.4" y="413.59999999999997" font-size="12" fill="#20203a" text-anchor="start" font-weight="normal" style="font-family:'Liberation Sans',sans-serif" textLength="45" lengthAdjust="spacingAndGlyphs" >48.9273</text>
<rect x="88.7" y="390.64" width="1.4" height="1.2" fill="#c2c9d6"/>
<rect x="88.7" y="395.38" width="1.4" height="1.2" fill="#c2c9d6"/>
<rect x="88.7" y="400.12" width="1.4" height="1.2" fill="#c2c9d6"/>
<rect x="88.7" y="404.86" width="1.4" height="1.2" fill="#c2c9d6"/>
<rect x="88.7" y="409.59999999999997" width="1.4" height="1.2" fill="#c2c9d6"/>
<rect x="88.7" y="414.34" width="1.4" height="1.2" fill="#c2c9d6"/>
<rect x="88.7" y="419.08" width="1.4" height="1.2" fill="#c2c9d6"/>
<rect x="88.7" y="423.82" width="1.4" height="1.2" fill="#c2c9d6"/>
<rect x="88.7" y="428.56" width="1.4" height="1.2" fill="#c2c9d6"/>
<rect x="88.7" y="433.3" width="1.4" height="1.2" fill="#c2c9d6"/>
<rect x="689.0" y="390.74" width="1.2" height="1.2" fill="#b9c0cc"/>
<rect x="689.0" y="395.48" width="1.2" height="1.2" fill="#b9c0cc"/>
<rect x="689.0" y="400.22" width="1.2" height="1.2" fill="#b9c0cc"/>
<rect x="689.0" y="404.96000000000004" width="1.2" height="1.2" fill="#b9c0cc"/>
<rect x="689.0" y="409.7" width="1.2" height="1.2" fill="#b9c0cc"/>
<rect x="689.0" y="414.44" width="1.2" height="1.2" fill="#b9c0cc"/>
<rect x="689.0" y="419.18" width="1.2" height="1.2" fill="#b9c0cc"/>
<rect x="689.0" y="423.92" width="1.2" height="1.2" fill="#b9c0cc"/>
<rect x="689.0" y="428.66" width="1.2" height="1.2" fill="#b9c0cc"/>
<rect x="689.0" y="433.40000000000003" width="1.2" height="1.2" fill="#b9c0cc"/>
<polyline points="94.5,395.3 100.5,396.5 106.5,397.6 112.5,400.7 118.5,404.8 124.5,408.3 130.5,411.5 136.5,413.9 142.5,415.9 148.5,417.5 154.5,418.6 160.5,419.4 166.5,420.2 172.5,421.3 178.5,422.6 184.5,423.4 190.5,422.3 196.5,422.1 202.5,421.8 208.5,421.3 214.5,420.7 220.5,420.2 226.5,417.0 232.5,413.9 238.5,413.1 244.5,412.3 250.5,414.3 256.5,416.2 262.5,417.3 268.5,417.5 274.5,418.3 280.5,418.9 286.5,418.3 292.5,419.1 298.5,419.9 304.5,417.0 310.5,413.9 316.5,411.0 322.5,408.0 328.5,406.0 334.5,404.4 340.5,402.8 346.5,402.8 352.5,402.8 358.5,406.7 364.5,410.7 370.5,412.3 376.5,414.3 382.5,415.9 388.5,415.0 394.5,411.5 400.5,409.1 406.5,407.1 412.5,406.0 418.5,405.2 424.5,405.2 430.5,406.4 436.5,407.1 442.5,409.9 448.5,411.2 454.5,411.5 460.5,413.4 466.5,415.4 472.5,417.0 478.5,418.6 484.5,419.4 490.5,420.2 496.5,421.3 502.5,422.3 508.5,418.6 514.5,415.4 520.5,412.3 526.5,409.1 532.5,406.3 538.5,407.1 544.5,408.3 550.5,411.0 556.5,414.3 562.5,417.5 568.5,419.7 574.5,421.3 580.5,422.3 586.5,422.3 592.5,419.7 598.5,416.6 604.5,412.8 610.5,408.6 616.5,406.0 622.5,404.8 628.5,403.9 634.5,402.8 640.5,402.0 646.5,400.7 652.5,400.1 658.5,401.2" fill="none" stroke="#3fc380" stroke-width="1.0" stroke-linejoin="round" shape-rendering="crispEdges" />
<polyline points="94.5,392.5 100.5,395.7 106.5,401.2 112.5,407.5 118.5,413.1 124.5,417.3 130.5,417.3 136.5,417.3 142.5,419.4 148.5,419.7 154.5,420.5 160.5,421.0 166.5,422.3 172.5,423.8 178.5,424.2 184.5,423.4 190.5,420.7 196.5,420.7 202.5,420.2 208.5,419.9 214.5,418.6 220.5,418.1 226.5,409.9 232.5,407.1 238.5,411.5 244.5,411.2 250.5,417.0 256.5,420.2 262.5,419.1 268.5,418.1 274.5,420.2 280.5,419.1 286.5,417.5 292.5,421.3 298.5,420.7 304.5,411.5 310.5,407.5 316.5,404.6 322.5,402.8 328.5,401.5 334.5,401.2 340.5,400.1 346.5,402.0 352.5,406.0 358.5,413.1 364.5,417.0 370.5,416.2 376.5,419.1 382.5,419.4 388.5,411.5 394.5,406.0 400.5,403.9 406.5,403.3 412.5,402.8 418.5,402.0 424.5,404.8 430.5,407.8 436.5,410.7 442.5,415.4 448.5,413.1 454.5,412.8 460.5,417.0 466.5,418.6 472.5,419.4 478.5,420.7 484.5,421.3 490.5,422.6 496.5,424.5 502.5,422.6 508.5,413.1 514.5,409.1 520.5,407.1 526.5,403.6 532.5,400.4 538.5,409.1 544.5,411.8 550.5,417.0 556.5,421.3 562.5,423.4 568.5,423.8 574.5,424.5 580.5,423.4 586.5,421.8 592.5,415.4 598.5,409.9 604.5,405.5 610.5,402.0 616.5,400.4 622.5,402.8 628.5,403.3 634.5,401.2 640.5,400.1 646.5,398.0 652.5,398.0 658.5,402.0" fill="none" stroke="#3b82f6" stroke-width="1.0" stroke-linejoin="round" shape-rendering="crispEdges" />
<polyline points="94.5,390.1 100.5,394.9 106.5,402.8 112.5,417.8 118.5,427.3 124.5,434.0 130.5,429.7 136.5,424.9 142.5,426.1 148.5,425.4 154.5,424.9 160.5,424.2 166.5,426.5 172.5,430.2 178.5,428.9 184.5,424.9 190.5,419.1 196.5,419.7 202.5,418.9 208.5,418.6 214.5,416.2 220.5,413.9 226.5,397.6 232.5,394.1 238.5,409.9 244.5,408.3 250.5,421.8 256.5,428.1 262.5,423.4 268.5,419.4 274.5,424.2 280.5,419.7 286.5,415.9 292.5,425.4 298.5,422.3 304.5,402.0 310.5,395.7 316.5,390.7 322.5,391.2 328.5,392.5 334.5,394.9 340.5,395.3 346.5,401.2 352.5,406.7 358.5,424.2 364.5,431.3 370.5,426.1 376.5,427.0 382.5,427.3 388.5,406.0 394.5,393.3 400.5,393.3 406.5,395.7 412.5,398.5 418.5,398.0 424.5,405.5 430.5,411.5 436.5,415.4 442.5,425.3 448.5,418.6 454.5,415.4 460.5,425.4 466.5,424.2 472.5,425.4 478.5,425.4 484.5,425.7 490.5,427.0 496.5,430.5 502.5,424.2 508.5,403.6 514.5,396.5 520.5,394.9 526.5,390.6 532.5,388.1 538.5,409.9 544.5,416.6 550.5,428.1 556.5,434.0 562.5,434.4 568.5,431.3 574.5,430.2 580.5,427.0 586.5,420.7 592.5,407.5 598.5,398.0 604.5,390.9 610.5,388.1 616.5,387.4 622.5,400.4 628.5,400.7 634.5,395.7 640.5,395.3 646.5,394.1 652.5,396.5 658.5,403.6" fill="none" stroke="#2fa8e0" stroke-width="1.0" stroke-linejoin="round" shape-rendering="crispEdges" />
<text x="92.5" y="378.5" font-size="12" fill="#111" text-anchor="start" font-weight="normal" style="font-family:'Liberation Sans',sans-serif" textLength="56" lengthAdjust="spacingAndGlyphs" >KDJ(9,3,3)</text>
<text x="153" y="378.5" font-size="12" fill="#4d97f5" text-anchor="start" font-weight="normal" style="font-family:'Liberation Sans',sans-serif" textLength="56.5" lengthAdjust="spacingAndGlyphs" >K:71.8319</text>
<text x="217" y="378.5" font-size="12" fill="#52cc8c" text-anchor="start" font-weight="normal" style="font-family:'Liberation Sans',sans-serif" textLength="56.5" lengthAdjust="spacingAndGlyphs" >D:74.5880</text>
<text x="282" y="378.5" font-size="12" fill="#38b0ea" text-anchor="start" font-weight="normal" style="font-family:'Liberation Sans',sans-serif" textLength="52" lengthAdjust="spacingAndGlyphs" >J:66.3196</text>
<circle cx="28.7" cy="371.8" r="1.9" fill="#f01818"/>
<circle cx="28.7" cy="371.8" r="3.5" fill="none" stroke="#111" stroke-width="0.9"/>
<line x1="33.60" y1="371.80" x2="35.60" y2="371.80" stroke="#f01818" stroke-width="1"/>
<line x1="32.16" y1="375.26" x2="33.58" y2="376.68" stroke="#f01818" stroke-width="1"/>
<line x1="28.70" y1="376.70" x2="28.70" y2="378.70" stroke="#f01818" stroke-width="1"/>
<line x1="25.24" y1="375.26" x2="23.82" y2="376.68" stroke="#f01818" stroke-width="1"/>
<line x1="23.80" y1="371.80" x2="21.80" y2="371.80" stroke="#f01818" stroke-width="1"/>
<line x1="25.24" y1="368.34" x2="23.82" y2="366.92" stroke="#f01818" stroke-width="1"/>
<line x1="28.70" y1="366.90" x2="28.70" y2="364.90" stroke="#f01818" stroke-width="1"/>
<line x1="32.16" y1="368.34" x2="33.58" y2="366.92" stroke="#f01818" stroke-width="1"/>
<text x="113.9" y="447.9" font-size="12" fill="#1a1a2e" text-anchor="start" font-weight="bold" style="font-family:'Liberation Sans',sans-serif" textLength="45" lengthAdjust="spacingAndGlyphs" >2024/01</text>
<line x1="112.0" x2="112.0" y1="435.5" y2="440.5" stroke="#c8cedb" stroke-width="1"/>
<text x="245.9" y="447.9" font-size="12" fill="#1a1a2e" text-anchor="start" font-weight="bold" style="font-family:'Liberation Sans',sans-serif" textLength="45" lengthAdjust="spacingAndGlyphs" >2024/02</text>
<line x1="244.0" x2="244.0" y1="435.5" y2="440.5" stroke="#c8cedb" stroke-width="1"/>
<text x="371.9" y="447.9" font-size="12" fill="#1a1a2e" text-anchor="start" font-weight="bold" style="font-family:'Liberation Sans',sans-serif" textLength="45" lengthAdjust="spacingAndGlyphs" >2024/03</text>
<line x1="370.0" x2="370.0" y1="435.5" y2="440.5" stroke="#c8cedb" stroke-width="1"/>
<text x="497.9" y="447.9" font-size="12" fill="#1a1a2e" text-anchor="start" font-weight="bold" style="font-family:'Liberation Sans',sans-serif" textLength="45" lengthAdjust="spacingAndGlyphs" >2024/04</text>
<line x1="496.0" x2="496.0" y1="435.5" y2="440.5" stroke="#c8cedb" stroke-width="1"/>
<text x="629.9" y="447.9" font-size="12" fill="#1a1a2e" text-anchor="start" font-weight="bold" style="font-family:'Liberation Sans',sans-serif" textLength="45" lengthAdjust="spacingAndGlyphs" >2024/05</text>
<line x1="628.0" x2="628.0" y1="435.5" y2="440.5" stroke="#c8cedb" stroke-width="1"/>
<rect x="20" y="435.5" width="69.5" height="19.5" fill="#fff" stroke="#d3d8e2" stroke-width="1"/>
<text x="35.2" y="451.2" font-size="12" fill="#ff7a1a" text-anchor="start" font-weight="bold" style="font-family:'Liberation Sans','Noto Sans CJK SC',sans-serif">日线</text>
<path d="M64.6 449.9 L68.8 441.8 L73 449.9 Z" fill="#ff7a1a"/>
<rect x="20" y="453" width="738" height="18" fill="#fff"/>
<line x1="448" x2="688" y1="452.6" y2="452.6" stroke="#e6ebf2" stroke-width="1.2"/>
<line x1="20" x2="758" y1="455.6" y2="455.6" stroke="#c9ced8" stroke-width="1"/>
<rect x="20" y="455.2" width="38.9" height="15.8" fill="#ff6600"/>
<text x="27.8" y="467" font-size="12" fill="#fff" text-anchor="start" font-weight="bold" style="font-family:'Liberation Sans','Noto Sans CJK SC',sans-serif">指标</text>
<text x="68" y="467" font-size="12" fill="#222" text-anchor="start" style="font-family:'Liberation Sans','Noto Sans CJK SC',sans-serif">模板</text>
<text x="108.2" y="466.4" font-size="11" fill="#ff7a1a" text-anchor="start" font-weight="normal" style="font-family:'Liberation Mono',monospace" textLength="18" lengthAdjust="spacingAndGlyphs" >VIP</text>
<text x="126.3" y="467" font-size="12" fill="#ff7a1a" text-anchor="start" style="font-family:'Liberation Sans','Noto Sans CJK SC',sans-serif">指标</text>
<text x="165.2" y="466.4" font-size="11" fill="#222" text-anchor="start" font-weight="normal" style="font-family:'Liberation Mono',monospace" textLength="12" lengthAdjust="spacingAndGlyphs" >MA</text>
<text x="194" y="466.4" font-size="11" fill="#222" text-anchor="start" font-weight="normal" style="font-family:'Liberation Mono',monospace" textLength="24" lengthAdjust="spacingAndGlyphs" >MACD</text>
<text x="234.1" y="466.4" font-size="11" fill="#222" text-anchor="start" font-weight="normal" style="font-family:'Liberation Mono',monospace" textLength="24" lengthAdjust="spacingAndGlyphs" >BOLL</text>
<text x="274.2" y="466.4" font-size="11" fill="#222" text-anchor="start" font-weight="normal" style="font-family:'Liberation Mono',monospace" textLength="18" lengthAdjust="spacingAndGlyphs" >VOL</text>
<text x="307.8" y="466.4" font-size="11" fill="#222" text-anchor="start" font-weight="normal" style="font-family:'Liberation Mono',monospace" textLength="24" lengthAdjust="spacingAndGlyphs" >BIAS</text>
<text x="347.5" y="466.4" font-size="11" fill="#222" text-anchor="start" font-weight="normal" style="font-family:'Liberation Mono',monospace" textLength="18" lengthAdjust="spacingAndGlyphs" >CCI</text>
<text x="382.7" y="466.4" font-size="11" fill="#222" text-anchor="start" font-weight="normal" style="font-family:'Liberation Mono',monospace" textLength="18" lengthAdjust="spacingAndGlyphs" >KDJ</text>
<text x="416.3" y="466.4" font-size="11" fill="#222" text-anchor="start" font-weight="normal" style="font-family:'Liberation Mono',monospace" textLength="18" lengthAdjust="spacingAndGlyphs" >LW&amp;</text>
<text x="455.8" y="466.4" font-size="11" fill="#222" text-anchor="start" font-weight="normal" style="font-family:'Liberation Mono',monospace" textLength="18" lengthAdjust="spacingAndGlyphs" >RSI</text>
<text x="489.2" y="466.4" font-size="11" fill="#222" text-anchor="start" font-weight="normal" style="font-family:'Liberation Mono',monospace" textLength="12" lengthAdjust="spacingAndGlyphs" >CR</text>
<text x="517.8" y="466.4" font-size="11" fill="#222" text-anchor="start" font-weight="normal" style="font-family:'Liberation Mono',monospace" textLength="18" lengthAdjust="spacingAndGlyphs" >PSY</text>
<text x="551.8" y="467" font-size="12" fill="#222" text-anchor="start" style="font-family:'Liberation Sans','Noto Sans CJK SC',sans-serif">设置</text>
<line x1="99.2" x2="99.2" y1="456" y2="471" stroke="#c9ced8" stroke-width="1.1"/>
<line x1="157" x2="157" y1="456" y2="471" stroke="#c9ced8" stroke-width="1.1"/>
<line x1="185.5" x2="185.5" y1="456" y2="471" stroke="#c9ced8" stroke-width="1.1"/>
<line x1="226" x2="226" y1="456" y2="471" stroke="#c9ced8" stroke-width="1.1"/>
<line x1="265.3" x2="265.3" y1="456" y2="471" stroke="#c9ced8" stroke-width="1.1"/>
<line x1="299.4" x2="299.4" y1="456" y2="471" stroke="#c9ced8" stroke-width="1.1"/>
<line x1="339.6" x2="339.6" y1="456" y2="471" stroke="#c9ced8" stroke-width="1.1"/>
<line x1="372.8" x2="372.8" y1="456" y2="471" stroke="#c9ced8" stroke-width="1.1"/>
<line x1="408" x2="408" y1="456" y2="471" stroke="#c9ced8" stroke-width="1.1"/>
<line x1="448.2" x2="448.2" y1="456" y2="471" stroke="#c9ced8" stroke-width="1.1"/>
<line x1="481.4" x2="481.4" y1="456" y2="471" stroke="#c9ced8" stroke-width="1.1"/>
<line x1="509.6" x2="509.6" y1="456" y2="471" stroke="#c9ced8" stroke-width="1.1"/>
<line x1="543.6" x2="543.6" y1="456" y2="471" stroke="#c9ced8" stroke-width="1.1"/>
<line x1="583.4" x2="583.4" y1="456" y2="471" stroke="#c9ced8" stroke-width="1.1"/>
<line x1="0" x2="20" y1="470.3" y2="470.3" stroke="#c4c8d0" stroke-width="1.2"/>
<line x1="20" x2="583" y1="470.6" y2="470.6" stroke="#e4e6ea" stroke-width="0.9"/>
<line x1="583.4" x2="758" y1="470.2" y2="470.2" stroke="#cfd3db" stroke-width="1.2"/>
<rect x="756" y="93" width="2" height="196" fill="#eaeef6"/>
<rect x="756" y="300" width="2" height="80" fill="#eaeef6"/>
<rect x="756" y="389" width="2" height="50.5" fill="#eaeef6"/>
<text x="630.8" y="446.2" font-size="30" fill="#c6ad9a" fill-opacity="0.75" style="font-family:'Liberation Sans',sans-serif" textLength="98.7" lengthAdjust="spacing">FX678</text>
<text x="629.6" y="445.1" font-size="30" fill="#cddcf1" fill-opacity="0.95" style="font-family:'Liberation Sans',sans-serif" textLength="98.7" lengthAdjust="spacing">FX678</text>
</svg>
</body></html>
